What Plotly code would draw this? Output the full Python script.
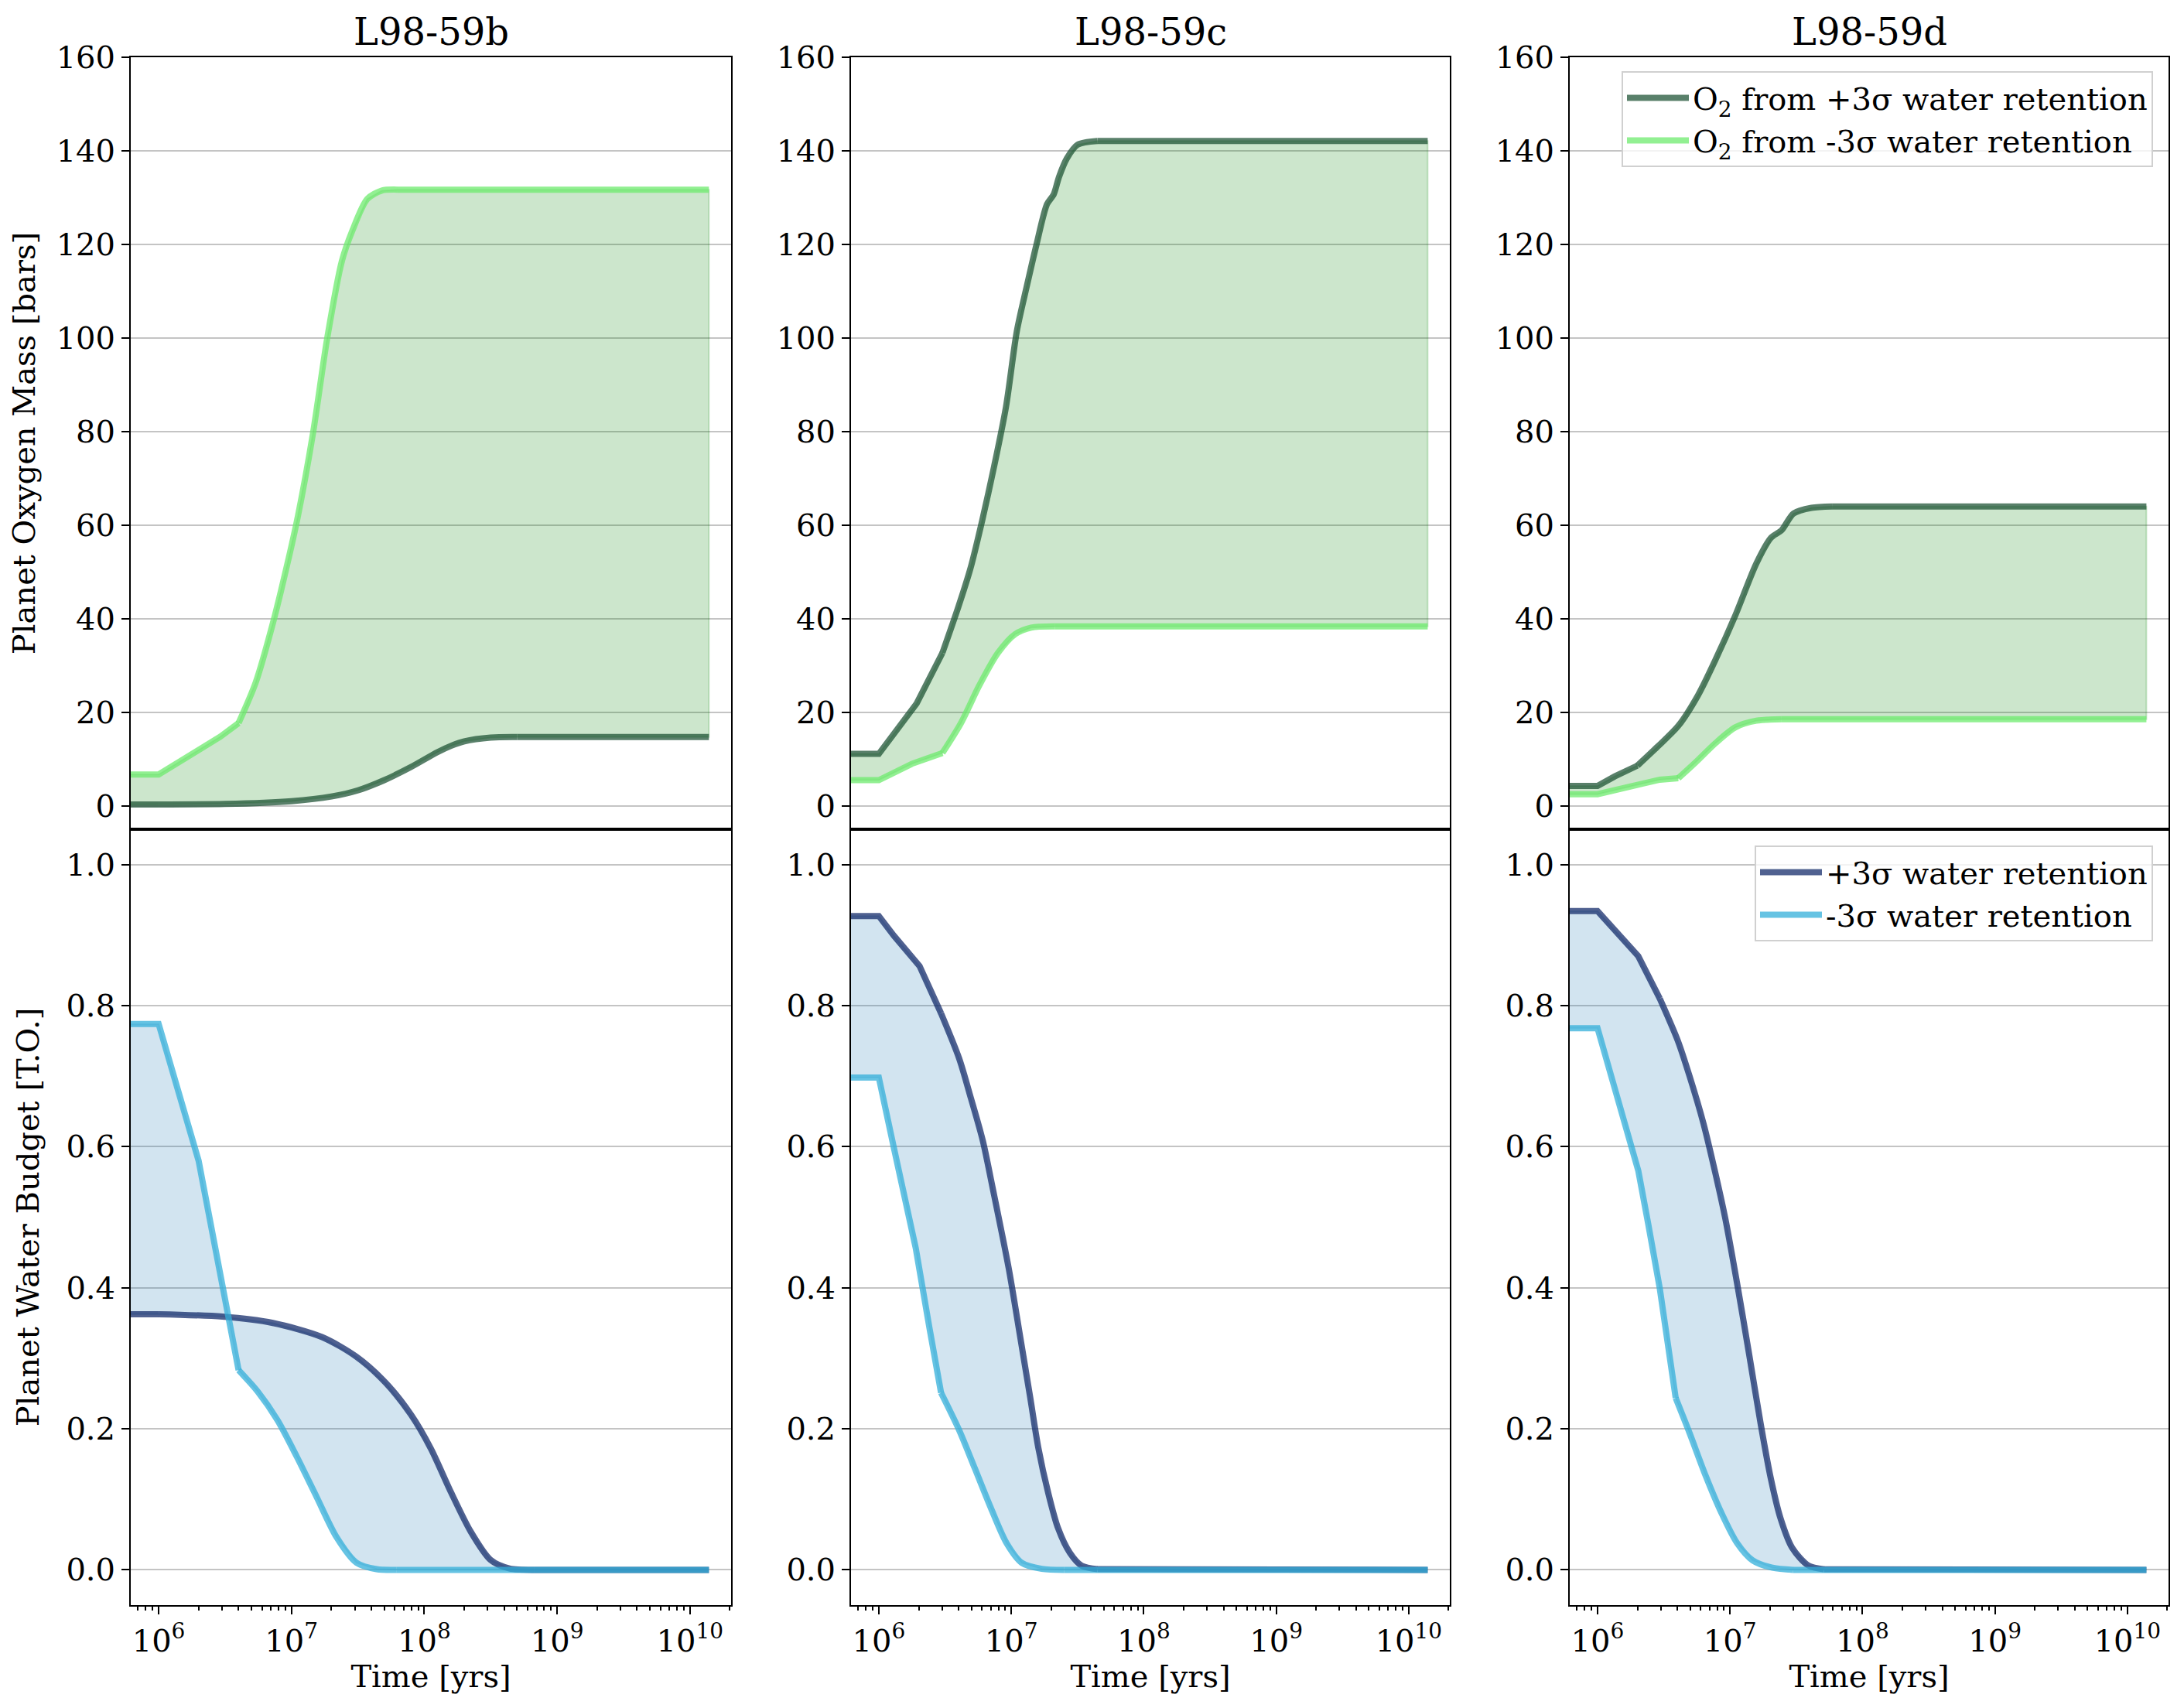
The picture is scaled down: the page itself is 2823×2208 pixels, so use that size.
import plotly.graph_objects as go
from plotly.subplots import make_subplots

# planets (one column each)
planets = ['L98-59b', 'L98-59c', 'L98-59d']

# ---- oxygen built up [bars] ----
t_o2_hi_b = [6.0e5, 1.0e6, 3.16e6, 1.0e7, 2.0e7, 3.16e7, 5.0e7, 7.94e7, 1.26e8, 1.58e8, 2.0e8, 3.16e8, 5.0e8, 1.39e10]
o2_hi_b = [0.3, 0.3, 0.4, 1.0, 2.0, 3.3, 5.5, 8.3, 11.5, 12.8, 13.8, 14.6, 14.7, 14.7]
t_o2_lo_b = [6.0e5, 1.0e6, 2.92e6, 4.0e6, 5.37e6, 7.24e6, 9.33e6, 1.12e7, 1.45e7, 1.86e7, 2.4e7, 2.88e7, 3.72e7, 4.79e7, 6.3e7, 1.39e10]
o2_lo_b = [6.7, 6.7, 14.8, 17.7, 26.3, 39.0, 51.8, 62.0, 79.5, 100.0, 116.5, 123.0, 129.7, 131.5, 131.7, 131.7]

t_o2_hi_c = [6.0e5, 1.0e6, 1.93e6, 3.02e6, 3.98e6, 4.9e6, 6.03e6, 7.41e6, 9.12e6, 1.10e7, 1.30e7, 1.55e7, 1.86e7, 2.09e7, 2.29e7, 2.63e7, 3.16e7, 4.47e7, 1.39e10]
o2_hi_c = [11.1, 11.1, 21.9, 32.7, 42.5, 50.6, 61.0, 72.5, 85.3, 101.4, 110.7, 120.0, 128.6, 130.7, 134.4, 138.4, 141.3, 142.1, 142.1]
t_o2_lo_c = [6.0e5, 1.0e6, 1.78e6, 3.02e6, 4.17e6, 5.75e6, 7.94e6, 1.07e7, 1.41e7, 2.14e7, 1.39e10]
o2_lo_c = [5.5, 5.5, 9.0, 11.3, 17.7, 25.8, 32.7, 36.7, 38.1, 38.35, 38.35]

t_o2_hi_d = [6.0e5, 1.0e6, 1.35e6, 2.0e6, 2.85e6, 4.07e6, 5.75e6, 7.76e6, 1.10e7, 1.58e7, 2.04e7, 2.45e7, 3.02e7, 4.12e7, 5.89e7, 1.39e10]
o2_hi_d = [4.25, 4.25, 6.3, 8.6, 12.7, 17.1, 23.7, 31.2, 40.8, 51.8, 57.3, 58.9, 62.5, 63.7, 64.0, 64.0]
t_o2_lo_d = [6.0e5, 1.0e6, 2.0e6, 2.95e6, 4.07e6, 5.5e6, 7.76e6, 1.10e7, 1.58e7, 2.45e7, 1.39e10]
o2_lo_d = [2.5, 2.5, 4.5, 5.6, 5.9, 9.3, 13.4, 16.8, 18.2, 18.5, 18.5]

# ---- water left [T.O.] ----
t_w_hi_b = [6.0e5, 1.0e6, 3.02e6, 7.24e6, 1.70e7, 3.09e7, 5.13e7, 7.94e7, 1.12e8, 1.58e8, 2.24e8, 3.16e8, 4.37e8, 6.76e8, 1.39e10]
w_hi_b = [0.3625, 0.3625, 0.359, 0.350, 0.33, 0.302, 0.265, 0.22, 0.172, 0.111, 0.054, 0.014, 0.002, 0.0, 0.0]
t_w_lo_b = [6.0e5, 1.0e6, 2.0e6, 4.0e6, 5.56e6, 7.83e6, 1.10e7, 1.55e7, 2.19e7, 3.09e7, 4.37e7, 6.2e7, 1.39e10]
w_lo_b = [0.774, 0.774, 0.58, 0.283, 0.253, 0.2125, 0.16, 0.103, 0.046, 0.01, 0.001, 0.0, 0.0]

t_w_hi_c = [6.0e5, 1.0e6, 1.30e6, 2.03e6, 2.95e6, 4.04e6, 4.95e6, 6.1e6, 7.24e6, 9.55e6, 1.17e7, 1.39e7, 1.60e7, 1.90e7, 2.25e7, 2.77e7, 3.39e7, 4.47e7, 1.39e10]
w_hi_c = [0.927, 0.927, 0.899, 0.856, 0.789, 0.725, 0.669, 0.608, 0.541, 0.428, 0.329, 0.244, 0.173, 0.109, 0.0595, 0.024, 0.006, 0.001, 0.0]
t_w_lo_c = [6.0e5, 1.0e6, 1.30e6, 1.90e6, 2.41e6, 2.95e6, 4.04e6, 5.3e6, 7.0e6, 9.2e6, 1.20e7, 1.70e7, 2.5e7, 1.39e10]
w_lo_c = [0.698, 0.698, 0.598, 0.456, 0.343, 0.251, 0.198, 0.144, 0.088, 0.038, 0.0099, 0.0014, 0.0, 0.0]

t_w_hi_d = [6.0e5, 1.0e6, 2.03e6, 2.95e6, 4.04e6, 4.95e6, 6.3e6, 7.76e6, 9.2e6, 1.13e7, 1.39e7, 1.70e7, 2.03e7, 2.4e7, 2.95e7, 3.89e7, 5.13e7, 1.39e10]
w_hi_d = [0.934, 0.934, 0.870, 0.810, 0.750, 0.700, 0.633, 0.562, 0.4986, 0.4065, 0.307, 0.208, 0.130, 0.0737, 0.031, 0.0064, 0.0007, 0.0]
t_w_lo_d = [6.0e5, 1.0e6, 1.30e6, 2.03e6, 2.41e6, 2.95e6, 3.89e6, 4.95e6, 6.53e6, 8.6e6, 1.13e7, 1.48e7, 2.09e7, 3.0e7, 1.39e10]
w_lo_d = [0.768, 0.768, 0.693, 0.566, 0.491, 0.399, 0.2436, 0.194, 0.134, 0.081, 0.038, 0.0135, 0.003, 0.0, 0.0]

# last index of the straight (kinked) early part of each curve; smooth after it
o2_series = [(t_o2_hi_b, o2_hi_b, 1, t_o2_lo_b, o2_lo_b, 3),
             (t_o2_hi_c, o2_hi_c, 3, t_o2_lo_c, o2_lo_c, 3),
             (t_o2_hi_d, o2_hi_d, 3, t_o2_lo_d, o2_lo_d, 4)]
w_series = [(t_w_hi_b, w_hi_b, 1, t_w_lo_b, w_lo_b, 3),
            (t_w_hi_c, w_hi_c, 4, t_w_lo_c, w_lo_c, 5),
            (t_w_hi_d, w_hi_d, 3, t_w_lo_d, w_lo_d, 6)]

# axis ticks
x_major = [1e6, 1e7, 1e8, 1e9, 1e10]
x_labels = ['10<sup>6</sup>', '10<sup>7</sup>', '10<sup>8</sup>', '10<sup>9</sup>', '10<sup>10</sup>']
x_minor = [m * 10 ** k for k in range(5, 11) for m in range(2, 10)]
o2_ticks = [0, 20, 40, 60, 80, 100, 120, 140, 160]
w_ticks = [0.0, 0.2, 0.4, 0.6, 0.8, 1.0]

# colours
c_o2_hi = 'rgba(25,79,48,0.72)'
c_o2_lo = 'rgba(110,235,110,0.75)'
c_o2_fill = 'rgba(0,128,0,0.2)'
c_w_hi = 'rgba(13,36,101,0.72)'
c_w_lo = 'rgba(51,175,217,0.75)'
c_w_fill = 'rgba(31,119,180,0.2)'

# the page puts the figure 8px in from the corner, so everything is shifted by -8
OFF = 8
W, H = 2823 - OFF, 2208 - OFF
ML, MT = 169 - OFF, 74 - OFF
MR = W - (2803 - OFF)
MB = H - (2075 - OFF)
FONT = 'DejaVu Serif'

fig = make_subplots(rows=2, cols=3)


def add_line(row, col, t, y, k, color, name, show, legend):
    # straight segments up to index k, smooth curve up to the plateau, straight plateau
    e = len(t) - 2
    fig.add_trace(go.Scatter(x=t[:k + 1], y=y[:k + 1], mode='lines', name=name,
                             line=dict(color=color, width=8), showlegend=show, legend=legend,
                             legendgroup=name), row=row, col=col)
    fig.add_trace(go.Scatter(x=t[k:e + 1], y=y[k:e + 1], mode='lines', name=name,
                             line=dict(color=color, width=8, shape='spline', smoothing=0.8),
                             showlegend=False, legendgroup=name), row=row, col=col)
    fig.add_trace(go.Scatter(x=t[e:], y=y[e:], mode='lines', name=name,
                             line=dict(color=color, width=8),
                             showlegend=False, legendgroup=name), row=row, col=col)


def add_band(row, col, series, c_hi, c_lo, c_fill, name_hi, name_lo, legend):
    t_hi, y_hi, k_hi, t_lo, y_lo, k_lo = series
    show = col == 3
    fig.add_trace(go.Scatter(x=t_hi + t_lo[::-1], y=y_hi + y_lo[::-1], fill='toself',
                             fillcolor=c_fill, mode='lines', line=dict(color=c_fill, width=2),
                             showlegend=False, hoverinfo='skip'), row=row, col=col)
    add_line(row, col, t_hi, y_hi, k_hi, c_hi, name_hi, show, legend)
    add_line(row, col, t_lo, y_lo, k_lo, c_lo, name_lo, show, legend)


for i in range(3):
    add_band(1, i + 1, o2_series[i], c_o2_hi, c_o2_lo, c_o2_fill,
             'O<sub>2</sub> from +3σ water retention', 'O<sub>2</sub> from -3σ water retention', 'legend')
    add_band(2, i + 1, w_series[i], c_w_hi, c_w_lo, c_w_fill,
             '+3σ water retention', '-3σ water retention', 'legend2')

# panel positions (page pixels -> fractions of the plot area)
pw = W - ML - MR
ph = H - MT - MB
col_px = [(169, 945), (1100, 1874), (2029, 2803)]
col_dom = [[(a - OFF - ML) / pw, (b - OFF - ML) / pw] for a, b in col_px]
mid = 1 - (1072 - OFF - MT) / ph
row_dom = {1: [mid, 1.0], 2: [0.0, mid]}

axis_common = dict(showline=True, linecolor='black', linewidth=2, mirror=True,
                   tickfont=dict(family=FONT, size=40, color='black'), tickcolor='black',
                   tickwidth=2, ticklen=10, zeroline=False)

for r in (1, 2):
    for c in (1, 2, 3):
        n = (r - 1) * 3 + c
        xa = 'xaxis' if n == 1 else 'xaxis%d' % n
        ya = 'yaxis' if n == 1 else 'yaxis%d' % n
        fig.layout[xa].update(type='log', range=[5.79, 10.31], domain=col_dom[c - 1],
                              showgrid=False, tickvals=x_major, ticktext=x_labels,
                              ticks='outside' if r == 2 else '', showticklabels=(r == 2),
                              minor=dict(tickvals=x_minor, ticks='outside' if r == 2 else '',
                                         ticklen=5, tickwidth=2, tickcolor='black', showgrid=False),
                              **axis_common)
        if r == 1:
            fig.layout[ya].update(range=[-5, 160], tickvals=o2_ticks, domain=row_dom[1])
        else:
            fig.layout[ya].update(range=[-0.05, 1.05], tickvals=w_ticks, tickformat='.1f', domain=row_dom[2])
        fig.layout[ya].update(showgrid=True, gridcolor='#c4c4c4', gridwidth=2, ticks='outside', **axis_common)
        if r == 2:
            fig.layout[xa].title = dict(text='Time [yrs]', font=dict(family=FONT, size=40, color='black'),
                                        standoff=6)

fig.layout.yaxis.title = dict(text='Planet Oxygen Mass [bars]', font=dict(family=FONT, size=40, color='black'),
                              standoff=22)
fig.layout.yaxis4.title = dict(text='Planet Water Budget [T.O.]', font=dict(family=FONT, size=40, color='black'),
                               standoff=22)

for i, name in enumerate(planets):
    fig.add_annotation(text=name, xref='paper', yref='paper', x=sum(col_dom[i]) / 2, y=1.0,
                       xanchor='center', yanchor='bottom', yshift=3, showarrow=False,
                       font=dict(family=FONT, size=48, color='black'))

legend_style = dict(font=dict(family=FONT, size=40, color='black'), bgcolor='rgba(255,255,255,0.8)',
                    bordercolor='#d0d0d0', borderwidth=2, xanchor='right', yanchor='top',
                    itemwidth=80, traceorder='normal')
fig.update_layout(
    width=W, height=H,
    margin=dict(l=ML, r=MR, t=MT, b=MB),
    plot_bgcolor='white', paper_bgcolor='white',
    font=dict(family=FONT, size=40, color='black'),
    legend=dict(x=(2783 - OFF - ML) / pw, y=1 - (92 - OFF - MT) / ph, **legend_style),
    legend2=dict(x=(2783 - OFF - ML) / pw, y=1 - (1093 - OFF - MT) / ph, **legend_style),
)

fig.write_html('out.html')
